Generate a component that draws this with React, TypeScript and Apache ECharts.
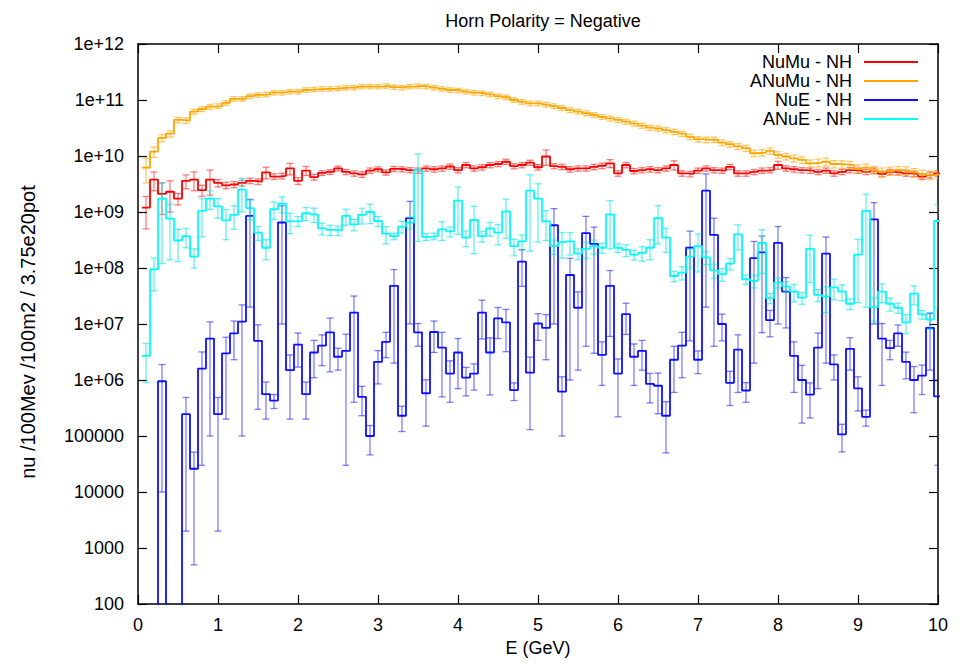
import { useEffect, useRef } from "react";
import * as echarts from "echarts";

// Bin geometry: 100 bins of 0.1 GeV centred at 0.1, 0.2, ..., 10.0 GeV
const BIN_WIDTH = 0.1;
const N_BINS = 100;
const energies: number[] = Array.from({ length: N_BINS }, (_, i) => Math.round((i + 1) * BIN_WIDTH * 100) / 100);

const yTickExponents = [2, 3, 4, 5, 6, 7, 8, 9, 10, 11, 12];
const xTicks = [0, 1, 2, 3, 4, 5, 6, 7, 8, 9, 10];

// NuMu - NH
const numuValues = [
  1.2e9, 3.8e9, 2.1e9, 2.3e9, 1.74e9, 3.6e9, 3.8e9, 2.45e9, 3.8e9, 3.3e9,
  3.0e9, 3.1e9, 3.3e9, 3.6e9, 3.5e9, 5.1e9, 4.3e9, 4.4e9, 6.0e9, 3.6e9,
  5.5e9, 4.2e9, 5.0e9, 5.2e9, 6.0e9, 5.2e9, 4.9e9, 4.7e9, 5.5e9, 5.8e9,
  5.1e9, 5.9e9, 5.8e9, 5.6e9, 5.5e9, 6.0e9, 5.8e9, 6.0e9, 6.5e9, 5.6e9,
  6.9e9, 6.0e9, 6.3e9, 6.9e9, 7.2e9, 7.9e9, 6.6e9, 6.9e9, 7.6e9, 6.3e9,
  9.8e9, 6.6e9, 6.4e9, 5.8e9, 6.0e9, 6.0e9, 6.4e9, 6.7e9, 7.4e9, 4.9e9,
  6.9e9, 5.4e9, 5.6e9, 5.8e9, 5.6e9, 6.0e9, 6.9e9, 4.9e9, 4.8e9, 5.5e9,
  6.0e9, 5.6e9, 5.5e9, 6.4e9, 4.9e9, 4.9e9, 5.2e9, 5.5e9, 5.6e9, 6.9e9,
  6.0e9, 5.8e9, 5.6e9, 5.5e9, 5.2e9, 5.5e9, 4.9e9, 5.2e9, 5.6e9, 5.5e9,
  5.2e9, 5.5e9, 4.8e9, 5.2e9, 5.1e9, 4.9e9, 4.8e9, 4.3e9, 4.6e9, 4.9e9,
];
const numuErrors = [
  7e8, 1.4e9, 1.2e9, 1.3e9, 4e8, 1e9, 1.4e9, 5.5e8, 1.8e9, 5e8,
  4e8, 4e8, 4e8, 4e8, 4e8, 1.2e9, 5e8, 5e8, 1.4e9, 5e8,
  1e9, 5e8, 5e8, 5e8, 6e8, 5.5e8, 5.5e8, 5.5e8, 6e8, 6e8,
  5.5e8, 6e8, 6e8, 6e8, 6e8, 6.5e8, 6.5e8, 6.5e8, 7e8, 6e8,
  7.5e8, 6.5e8, 7e8, 7.5e8, 7.5e8, 8.5e8, 7e8, 7.5e8, 8e8, 7e8,
  3e9, 7e8, 7e8, 6.5e8, 6.5e8, 6.5e8, 7e8, 7.5e8, 1.2e9, 5.5e8,
  7.5e8, 6e8, 6e8, 6.5e8, 6e8, 6.5e8, 1.3e9, 5.5e8, 5.5e8, 6e8,
  6.5e8, 6e8, 6e8, 7e8, 5.5e8, 5.5e8, 5.5e8, 6e8, 6e8, 1.1e9,
  6.5e8, 6.5e8, 6e8, 6e8, 5.5e8, 6e8, 5.5e8, 5.5e8, 6e8, 6e8,
  5.5e8, 6e8, 5.5e8, 5.5e8, 5.5e8, 5.5e8, 5.5e8, 5e8, 5.5e8, 5.5e8,
];

// ANuMu - NH
const anumuValues = [
  6.2e9, 1.2e10, 2.1e10, 2.5e10, 4.4e10, 4.3e10, 6.2e10, 6.9e10, 7.6e10, 7.8e10,
  8.9e10, 1.05e11, 1.05e11, 1.17e11, 1.23e11, 1.26e11, 1.35e11, 1.35e11, 1.41e11, 1.41e11,
  1.51e11, 1.55e11, 1.58e11, 1.58e11, 1.62e11, 1.66e11, 1.66e11, 1.74e11, 1.74e11, 1.74e11,
  1.78e11, 1.7e11, 1.66e11, 1.74e11, 1.78e11, 1.74e11, 1.66e11, 1.58e11, 1.51e11, 1.48e11,
  1.41e11, 1.35e11, 1.32e11, 1.26e11, 1.17e11, 1.12e11, 1.0e11, 9.3e10, 8.7e10, 8.7e10,
  8.3e10, 7.8e10, 7.2e10, 6.6e10, 6.2e10, 5.8e10, 5.4e10, 5.0e10, 4.7e10, 4.4e10,
  4.1e10, 3.8e10, 3.5e10, 3.2e10, 3.1e10, 2.9e10, 2.7e10, 2.5e10, 2.2e10, 2.0e10,
  1.95e10, 1.95e10, 1.74e10, 1.62e10, 1.48e10, 1.38e10, 1.12e10, 1.15e10, 1.23e10, 1.05e10,
  9.8e9, 9.1e9, 8.5e9, 7.4e9, 7.6e9, 7.9e9, 7.2e9, 7.1e9, 6.9e9, 5.9e9,
  6.2e9, 5.6e9, 5.2e9, 5.4e9, 5.6e9, 5.5e9, 5.1e9, 4.8e9, 4.6e9, 4.7e9,
];
const anumuErrors = [
  2.9e9, 2.5e9, 3e9, 3.2e9, 5e9, 5e9, 6.5e9, 7e9, 7.5e9, 7.5e9,
  8.5e9, 1e10, 1e10, 1.1e10, 1.15e10, 1.2e10, 1.25e10, 1.25e10, 1.3e10, 1.3e10,
  1.4e10, 1.4e10, 1.45e10, 1.45e10, 1.5e10, 1.5e10, 1.5e10, 1.55e10, 1.55e10, 1.55e10,
  1.6e10, 1.55e10, 1.5e10, 1.55e10, 1.6e10, 1.55e10, 1.5e10, 1.45e10, 1.4e10, 1.35e10,
  1.3e10, 1.25e10, 1.2e10, 1.15e10, 1.1e10, 1.05e10, 9.5e9, 9e9, 8.5e9, 8.5e9,
  8e9, 7.5e9, 7e9, 6.5e9, 6e9, 5.8e9, 5.4e9, 5e9, 4.8e9, 4.5e9,
  4.2e9, 4e9, 3.7e9, 3.4e9, 3.3e9, 3.1e9, 2.9e9, 2.7e9, 2.4e9, 2.2e9,
  2.2e9, 2.2e9, 2e9, 1.9e9, 1.8e9, 1.7e9, 1.5e9, 1.5e9, 1.6e9, 1.4e9,
  1.3e9, 1.3e9, 1.2e9, 1.1e9, 1.2e9, 1.3e9, 1.1e9, 1.1e9, 1.1e9, 1e9,
  1e9, 9e8, 9e8, 9e8, 9e8, 9e8, 8.5e8, 8e8, 8e8, 8e8,
];

// NuE - NH (0 = empty bin)
const nueValues = [
  0, 0, 9.5e5, 0, 0, 2.45e5, 2.6e4, 1.6e6, 5.5e6, 2.45e5,
  3.0e6, 6.8e6, 1.1e7, 8.5e8, 5.0e6, 5.6e5, 4.3e5, 6.5e8, 1.5e6, 4.3e6,
  5.6e5, 3.1e6, 4.1e6, 7.1e6, 2.6e6, 3.3e6, 1.6e7, 5.0e5, 1.0e5, 2.1e6,
  4.8e6, 4.8e7, 2.3e5, 7.8e8, 7.1e6, 5.8e5, 7.2e6, 3.8e6, 1.3e6, 3.1e6,
  1.1e6, 1.3e6, 1.6e7, 3.1e6, 1.26e7, 1.07e7, 6.6e5, 1.3e8, 1.35e6, 1.02e7,
  8.5e6, 5.8e8, 6.2e5, 7.5e7, 1.95e7, 4.2e8, 2.7e8, 2.8e6, 4.8e7, 1.3e6,
  1.5e7, 2.6e6, 3.3e6, 8.5e5, 7.9e5, 2.3e5, 2.3e6, 4.1e6, 2.3e8, 2.3e6,
  2.4e9, 3.9e8, 1.0e7, 8.9e5, 3.5e6, 6.5e5, 1.5e8, 1.9e8, 1.17e7, 2.8e8,
  3.8e7, 2.7e6, 1.0e6, 5.5e5, 3.8e6, 1.8e8, 1.9e6, 1.07e5, 3.6e6, 7.1e5,
  2.2e5, 7.4e8, 5.5e6, 3.7e6, 6.8e6, 2.1e6, 1.0e6, 1.2e6, 8.5e6, 5.1e5,
];
const nueErrors = [
  0, 0, 9.4e5, 0, 0, 2.43e5, 2.55e4, 1.57e6, 5.4e6, 2.43e5,
  2.8e6, 4.5e6, 1.09e7, 8.3e8, 4.7e6, 3.6e5, 1.2e5, 6.4e8, 1.3e6, 2.6e6,
  3.6e5, 2.0e6, 2.3e6, 5.7e6, 1.1e6, 3.27e6, 1.56e7, 2.7e5, 5.4e4, 1.25e6,
  2.3e6, 4.6e7, 1.1e5, 7.7e8, 3.1e6, 4.3e5, 4.1e6, 3.3e6, 9.0e5, 2.4e6,
  5.8e5, 6.4e5, 1.06e7, 2.56e6, 7.1e6, 7.5e6, 2.3e5, 8.3e7, 1.22e6, 5.1e6,
  6.2e6, 5.7e8, 5.2e5, 7.4e7, 1.8e7, 4.16e8, 2.67e8, 2.0e6, 4.2e7, 1.08e6,
  8.5e6, 1.8e6, 1.8e6, 4.6e5, 5.4e5, 1.8e5, 1.7e6, 3.0e6, 2.25e8, 1.0e6,
  2.38e9, 3.86e8, 5e6, 5.4e5, 2.9e6, 2.5e5, 1.48e8, 1.83e8, 5.8e6, 2.7e8,
  2.95e7, 2.1e6, 8.3e5, 3.4e5, 3.1e6, 1.78e8, 9e5, 5.5e4, 2.1e6, 4.3e5,
  7e4, 7.3e8, 4.7e6, 1.4e6, 2.8e6, 1.05e6, 7.4e5, 6.5e5, 7e6, 4.8e5,
];

// ANuE - NH
const anueValues = [
  2.7e6, 9.5e7, 1.74e9, 7.6e8, 3.1e8, 3.7e8, 1.6e8, 1.05e9, 1.74e9, 1.26e9,
  7.1e8, 8.9e8, 2.5e9, 1.17e9, 4.3e8, 2.3e8, 1.12e9, 1.41e9, 6.8e8, 6.9e8,
  9.5e8, 9.1e8, 5.1e8, 4.8e8, 4.7e8, 8.5e8, 6.0e8, 8.9e8, 1.0e9, 6.9e8,
  4.1e8, 3.7e8, 5.5e8, 6.5e8, 5.6e9, 3.6e8, 3.7e8, 4.9e8, 4.5e8, 1.6e9,
  3.5e8, 7.2e8, 3.7e8, 5.1e8, 4.3e8, 1.02e9, 2.45e8, 3.0e8, 2.4e9, 1.74e9,
  6.8e8, 2.45e8, 2.9e8, 3.0e8, 1.8e8, 2.2e8, 2.45e8, 2.3e8, 9.1e8, 2.3e8,
  2.1e8, 1.74e8, 1.86e8, 2.3e8, 7.8e8, 3.5e8, 7.2e7, 8.3e7, 1.6e8, 2.45e8,
  1.55e8, 9.1e7, 7.8e7, 1.2e8, 4.0e8, 6.3e7, 5.9e7, 2.8e8, 2.9e7, 5.5e7,
  4.7e7, 3.8e7, 2.95e7, 2.2e8, 3.3e7, 3.1e7, 4.5e7, 3.8e7, 2.3e7, 1.74e8,
  1.05e9, 2.0e7, 3.8e7, 2.3e7, 1.95e7, 1.07e7, 3.5e7, 1.48e7, 1.2e7, 6.9e8,
];
const anueErrors = [
  1.8e6, 5.6e7, 1.62e9, 6.2e8, 1.8e8, 1.4e8, 6e7, 6.9e8, 6.3e8, 4.8e8,
  3.9e8, 4e8, 1.5e9, 4.5e8, 1.2e8, 9e7, 3.9e8, 4.5e8, 2.7e8, 1.4e8,
  2.5e8, 2.6e8, 1.2e8, 1e8, 9e7, 2.7e8, 1.4e8, 2.8e8, 3.8e8, 1.4e8,
  1.4e8, 5e7, 1.3e8, 1.5e8, 5.3e9, 5e7, 5e7, 1.8e8, 9e7, 1.2e9,
  1.1e8, 5.4e8, 8e7, 1.4e8, 1.7e8, 6.8e8, 8e7, 9e7, 2.2e9, 1.45e9,
  3.7e8, 7e7, 1.4e8, 1.3e8, 4e7, 7e7, 7e7, 4.5e7, 6.9e8, 4e7,
  5e7, 3.5e7, 5.4e7, 9e7, 5.1e8, 1.6e8, 1.5e7, 2.2e7, 6e7, 1.6e8,
  4e7, 2.6e7, 2e7, 2.8e7, 1.9e8, 1.2e7, 1.5e7, 2e8, 6e6, 1.1e7,
  1e7, 1.3e7, 7e6, 1.65e8, 8e6, 1.5e7, 1.8e7, 1.2e7, 5e6, 1.5e8,
  1.03e9, 9e6, 1.4e7, 6e6, 4e6, 4e6, 1.3e7, 2.6e6, 4e6, 6.7e8,
];

const FONT = "'Liberation Sans', Arial, Helvetica, sans-serif";
const FLOOR = 1e-2; // below the axis minimum: empty bins drop out of the frame

const seriesDefs = [
  { name: "NuMu - NH", color: "#ff0000", errColor: "rgba(255,0,0,0.5)", values: numuValues, errors: numuErrors },
  { name: "ANuMu - NH", color: "#ffa500", errColor: "rgba(255,165,0,0.6)", values: anumuValues, errors: anumuErrors },
  { name: "NuE - NH", color: "#1010ff", errColor: "rgba(0,0,255,0.5)", values: nueValues, errors: nueErrors },
  { name: "ANuE - NH", color: "#00ffff", errColor: "rgba(0,230,230,0.6)", values: anueValues, errors: anueErrors },
];

function stepPoints(values: number[]): number[][] {
  const pts: number[][] = [];
  values.forEach((v, i) => {
    const c = energies[i];
    const y = v > 0 ? v : FLOOR;
    pts.push([c - BIN_WIDTH / 2, y], [c + BIN_WIDTH / 2, y]);
  });
  return pts;
}

function yLabel(exp: number): string {
  if (exp >= 6) return "1e+" + (exp < 10 ? "0" + exp : String(exp));
  return String(Math.round(Math.pow(10, exp)));
}

export default function App() {
  const ref = useRef<HTMLDivElement>(null);
  useEffect(() => {
    document.body.style.margin = "0";
    if (!ref.current) return;
    const chart = echarts.init(ref.current, undefined, { renderer: "svg" });

    const series: any[] = [];
    seriesDefs.forEach((s, si) => {
      series.push({
        type: "line",
        name: s.name,
        xAxisIndex: 0,
        yAxisIndex: 0,
        data: stepPoints(s.values),
        symbol: "none",
        showSymbol: false,
        clip: true,
        lineStyle: { color: s.color, width: 1.8 },
        itemStyle: { color: s.color },
        z: 2 + si * 2,
        silent: true,
      });
      series.push({
        type: "custom",
        name: s.name + " errors",
        xAxisIndex: 0,
        yAxisIndex: 0,
        clip: true,
        silent: true,
        z: 3 + si * 2,
        data: s.values
          .map((v, i) => [energies[i], v, s.errors[i]])
          .filter((d) => d[1] > 0),
        encode: { x: 0, y: 1 },
        renderItem: (_params: any, api: any) => {
          const x = api.value(0);
          const v = api.value(1);
          const e = api.value(2);
          const lo = Math.max(v - e, FLOOR);
          const hi = v + e;
          const pHi = api.coord([x, hi]);
          const pLo = api.coord([x, lo]);
          const hw = 3.5;
          const style = { stroke: s.errColor, lineWidth: 1.3, fill: null };
          return {
            type: "group",
            children: [
              { type: "line", shape: { x1: pHi[0], y1: pHi[1], x2: pLo[0], y2: pLo[1] }, style },
              { type: "line", shape: { x1: pHi[0] - hw, y1: pHi[1], x2: pHi[0] + hw, y2: pHi[1] }, style },
              { type: "line", shape: { x1: pLo[0] - hw, y1: pLo[1], x2: pLo[0] + hw, y2: pLo[1] }, style },
            ],
          };
        },
      });
    });

    const axisLine = { show: true, onZero: false, lineStyle: { color: "#000", width: 1.5 } };
    const axisTick = { show: true, inside: true, length: 9, lineStyle: { color: "#000", width: 1.2 } };

    const legendGraphics: any[] = [];
    const legendRows = [62, 81, 100, 119];
    seriesDefs.forEach((s, i) => {
      legendGraphics.push({
        type: "text",
        x: 852,
        y: legendRows[i],
        style: { text: s.name, fill: "#000", font: `18px ${FONT}`, textAlign: "right", textVerticalAlign: "middle" },
        z: 100,
      });
      legendGraphics.push({
        type: "line",
        shape: { x1: 864, y1: legendRows[i], x2: 918, y2: legendRows[i] },
        style: { stroke: s.color, lineWidth: 2 },
        z: 100,
      });
    });

    chart.setOption({
      animation: false,
      backgroundColor: "#ffffff",
      title: {
        text: "Horn Polarity = Negative",
        left: 538,
        top: 7,
        textAlign: "center",
        textStyle: { fontFamily: FONT, fontSize: 18, fontWeight: "normal", color: "#000" },
      },
      grid: { left: 138, right: 36, top: 44, bottom: 60, containLabel: false },
      xAxis: [
        {
          type: "value",
          min: xTicks[0],
          max: xTicks[xTicks.length - 1],
          interval: 1,
          position: "bottom",
          axisLine,
          axisTick,
          splitLine: { show: false },
          axisLabel: { fontFamily: FONT, fontSize: 18, color: "#000", margin: 12 },
        },
        {
          type: "value",
          min: xTicks[0],
          max: xTicks[xTicks.length - 1],
          interval: 1,
          position: "top",
          axisLine,
          axisTick,
          splitLine: { show: false },
          axisLabel: { show: false },
        },
      ],
      yAxis: [
        { type: "log", logBase: 10, min: 100, max: 1e12, show: false },
        {
          type: "value",
          min: yTickExponents[0],
          max: yTickExponents[yTickExponents.length - 1],
          interval: 1,
          position: "left",
          axisLine,
          axisTick,
          splitLine: { show: false },
          axisLabel: {
            fontFamily: FONT,
            fontSize: 18,
            color: "#000",
            margin: 14,
            formatter: (v: number) => yLabel(v),
          },
        },
        {
          type: "value",
          min: yTickExponents[0],
          max: yTickExponents[yTickExponents.length - 1],
          interval: 1,
          position: "right",
          axisLine,
          axisTick,
          splitLine: { show: false },
          axisLabel: { show: false },
        },
      ],
      graphic: [
        {
          type: "text",
          x: 28,
          y: 332,
          rotation: Math.PI / 2,
          style: {
            text: "nu /100Mev /100m2 / 3.75e20pot",
            fill: "#000",
            font: `20px ${FONT}`,
            textAlign: "center",
            textVerticalAlign: "middle",
          },
        },
        {
          type: "text",
          x: 538,
          y: 648,
          style: { text: "E (GeV)", fill: "#000", font: `18px ${FONT}`, textAlign: "center", textVerticalAlign: "middle" },
        },
        ...legendGraphics,
      ],
      series,
    });

    return () => chart.dispose();
  }, []);

  return <div ref={ref} style={{ width: 974, height: 664 }} />;
}
